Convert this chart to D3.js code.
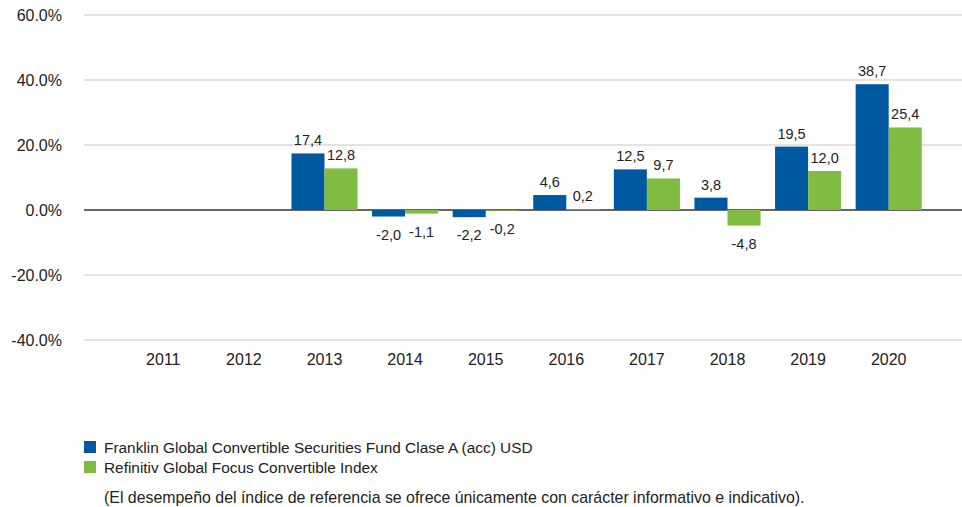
<!DOCTYPE html>
<html>
<head>
<meta charset="utf-8">
<script src="https://cdn.jsdelivr.net/npm/d3@7"></script>
<style>
  body { margin: 0; background: #fff; overflow: hidden; }
  text { font-family: "Liberation Sans", Arial, sans-serif; fill: #222; }
</style>
</head>
<body>
<div id="chart"></div>
<script>
// annual returns, fund vs index
var years = ['2011','2012','2013','2014','2015','2016','2017','2018','2019','2020'];
var fund  = [null, null, 17.4, -2.0, -2.2, 4.6, 12.5, 3.8, 19.5, 38.7];
var index = [null, null, 12.8, -1.1, -0.2, 0.2, 9.7, -4.8, 12.0, 25.4];
var yTicks = [60, 40, 20, 0, -20, -40];
var seriesNames = ['Franklin Global Convertible Securities Fund Clase A (acc) USD',
                   'Refinitiv Global Focus Convertible Index'];
var colours = ['#0059a0', '#80bc41'];
var note = '(El desempeño del índice de referencia se ofrece únicamente con carácter informativo e indicativo).';

var width = 962,
    height = 507;

var svg = d3.select("#chart").append("svg")
    .attr("width", width)
    .attr("height", height)
    .style("display", "block");

var y = d3.scaleLinear()
    .domain([-40, 60])
    .range([340, 15]);

var x = d3.scaleBand()
    .domain(years)
    .range([123, 929])
    .paddingInner(0.18)
    .paddingOuter(0.09);

var x1 = d3.scaleBand()
    .domain([0, 1])
    .range([0, x.bandwidth()]);

var fmt = d3.format(".1f");
function num(v) { return fmt(v).replace("\u2212", "-"); }

// gridlines
svg.selectAll("line.grid")
    .data(yTicks)
    .enter().append("line")
    .attr("class", "grid")
    .attr("x1", 84).attr("x2", width)
    .attr("y1", d => y(d)).attr("y2", d => y(d))
    .attr("stroke", d => d === 0 ? "#333" : "#e3e3e3")
    .attr("stroke-width", d => d === 0 ? 1.5 : 2);

// y labels
svg.selectAll("text.ylab")
    .data(yTicks)
    .enter().append("text")
    .attr("class", "ylab")
    .attr("x", 62)
    .attr("y", d => y(d) + 6)
    .attr("text-anchor", "end")
    .style("font-size", "16px")
    .text(d => num(d) + "%");

// x labels
svg.selectAll("text.xlab")
    .data(years)
    .enter().append("text")
    .attr("class", "xlab")
    .attr("x", d => x(d) + x.bandwidth() / 2)
    .attr("y", 365)
    .attr("text-anchor", "middle")
    .style("font-size", "16px")
    .text(d => d);

// bars
var rows = [];
years.forEach(function(yr, i) {
    [fund[i], index[i]].forEach(function(v, s) {
        if (v !== null) rows.push({year: yr, s: s, v: v});
    });
});

svg.selectAll("rect.bar")
    .data(rows)
    .enter().append("rect")
    .attr("class", "bar")
    .attr("x", d => x(d.year) + x1(d.s))
    .attr("width", x1.bandwidth())
    .attr("y", d => y(Math.max(0, d.v)))
    .attr("height", d => Math.abs(y(d.v) - y(0)))
    .attr("fill", d => colours[d.s]);

svg.selectAll("text.val")
    .data(rows)
    .enter().append("text")
    .attr("class", "val")
    .attr("x", d => x(d.year) + x1(d.s) + x1.bandwidth() / 2)
    .attr("y", d => d.v >= 0 ? y(d.v) - 8 : y(d.v) + 23)
    .attr("text-anchor", "middle")
    .style("font-size", "14.5px")
    .text(d => num(d.v).replace(".", ","));

// legend
var leg = svg.selectAll("g.leg")
    .data(seriesNames)
    .enter().append("g")
    .attr("class", "leg")
    .attr("transform", (d, i) => "translate(84," + (441 + i * 20) + ")");
leg.append("rect")
    .attr("width", 12).attr("height", 12)
    .attr("fill", (d, i) => colours[i]);
leg.append("text")
    .attr("x", 20).attr("y", 12)
    .style("font-size", "15.4px")
    .text(d => d);

svg.append("text")
    .attr("x", 104).attr("y", 503)
    .style("font-size", "15.9px")
    .text(note);
</script>
</body>
</html>
